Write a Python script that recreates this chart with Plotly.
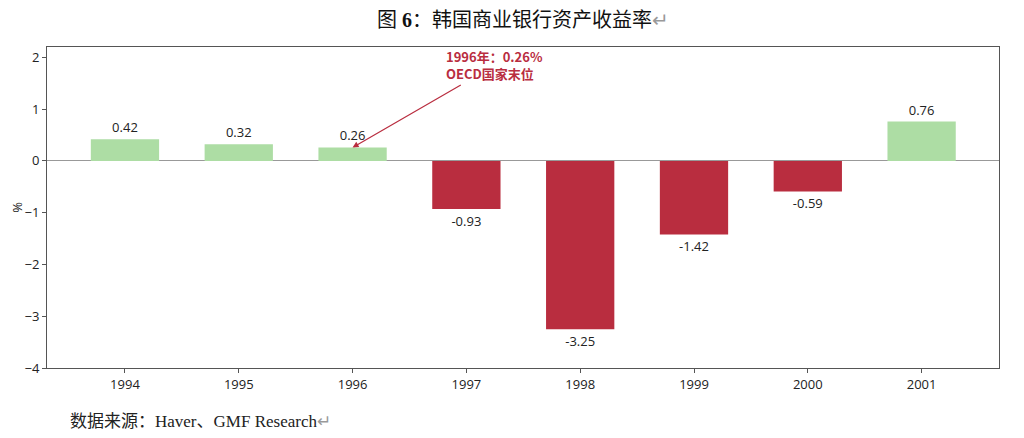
import plotly.graph_objects as go

# 韩国商业银行资产收益率 (%)
years = ['1994', '1995', '1996', '1997', '1998', '1999', '2000', '2001']
roa = [0.42, 0.32, 0.26, -0.93, -3.25, -1.42, -0.59, 0.76]
y_ticks = [2, 1, 0, -1, -2, -3, -4]

green = '#ADDDA4'
red = '#B92D3F'
colors = [green if v >= 0 else red for v in roa]

fig = go.Figure()

fig.add_trace(go.Bar(
    x=years,
    y=roa,
    width=0.6,
    marker=dict(color=colors, line=dict(width=0)),
    text=[f'{v:.2f}' for v in roa],
    textposition='outside',
    textfont=dict(family='Open Sans, Noto Sans, sans-serif', size=13, color='#222222'),
    cliponaxis=False,
))

# 标注 1996 年
fig.add_annotation(
    x=2, y=roa[2], xref='x', yref='y',
    text='<b>1996年：0.26%</b><br><b>OECD国家末位</b>',
    align='left',
    font=dict(family='Noto Sans CJK SC, sans-serif', size=13, color=red),
    showarrow=True, arrowhead=2, arrowsize=1, arrowwidth=1.2, arrowcolor=red,
    ax=142, ay=-82,
)

# 标题和资料来源
fig.add_annotation(
    x=0.5, y=1, xref='paper', yref='paper', yanchor='middle', yshift=27,
    text='图 <b>6</b>：韩国商业银行资产收益率<span style="color:#999999">↵</span>',
    showarrow=False,
    font=dict(family='Liberation Serif, Noto Sans CJK SC, serif', size=20, color='#111111'),
)
fig.add_annotation(
    x=0, y=0, xref='paper', yref='paper', xanchor='left', yanchor='middle',
    xshift=21, yshift=-53,
    text='数据来源：Haver、GMF Research<span style="color:#999999">↵</span>',
    showarrow=False,
    font=dict(family='Liberation Serif, Noto Sans CJK SC, serif', size=17, color='#222222'),
)

# 页面 body 默认有 8px 边距，这里按窗口尺寸扣掉
fig.update_layout(
    width=1008, height=422,
    margin=dict(l=39, r=17, t=39, b=62),
    paper_bgcolor='white',
    plot_bgcolor='white',
    showlegend=False,
    font=dict(family='Open Sans, Noto Sans, sans-serif', size=13, color='#222222'),
)

fig.update_xaxes(
    type='category',
    range=[-0.685, 7.68],
    showline=True, linecolor='#555555', linewidth=1, mirror=True,
    ticks='outside', ticklen=4, tickcolor='#555555',
    showgrid=False,
    tickfont=dict(size=13),
    automargin=False,
)
fig.update_yaxes(
    range=[-4, 2.2],
    tickvals=y_ticks,
    showline=True, linecolor='#555555', linewidth=1, mirror=True,
    ticks='outside', ticklen=4, tickcolor='#555555',
    showgrid=False,
    zeroline=True, zerolinecolor='#999999', zerolinewidth=1,
    title=dict(text='%', standoff=10, font=dict(size=13)),
    tickfont=dict(size=13),
    automargin=False,
)

fig.write_html('out.html')
